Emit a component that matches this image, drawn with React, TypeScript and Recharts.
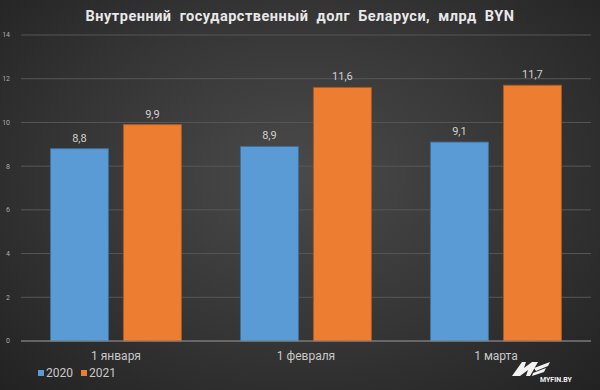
import React from "react";
import {
  BarChart,
  Bar,
  XAxis,
  YAxis,
  CartesianGrid,
  LabelList,
} from "recharts";

const categories = ["1 января", "1 февраля", "1 марта"];
const values2020 = [8.8, 8.9, 9.1];
const values2021 = [9.9, 11.6, 11.7];
const yTicks = [0, 2, 4, 6, 8, 10, 12, 14];

const data = categories.map((name, i) => ({
  name,
  y2020: values2020[i],
  y2021: values2021[i],
}));

const fmt = (v: any) => String(v).replace(".", ",");

const App = () => {
  return (
    <div
      style={{
        position: "relative",
        width: 600,
        height: 390,
        background: "radial-gradient(ellipse at 50% 45%, #4a4a4a 0%, #353535 55%, #222 100%)",
        overflow: "hidden",
      }}
    >
      <style>{`body{margin:0}`}</style>
      <div
        style={{
          position: "absolute",
          top: 8,
          left: 0,
          width: 600,
          textAlign: "center",
          whiteSpace: "nowrap",
          color: "#e8e8e8",
          fontFamily: "Roboto, sans-serif",
          fontWeight: 700,
          fontSize: 14.5,
          letterSpacing: 0.5,
          wordSpacing: 4,
        }}
      >
        Внутренний государственный долг Беларуси, млрд BYN
      </div>
      <BarChart
        width={600}
        height={390}
        data={data}
        margin={{ top: 35, right: 9, left: 0, bottom: 27 }}
        barCategoryGap="15.5%"
        barGap={15}
      >
        <CartesianGrid vertical={false} stroke="#575757" />
        <XAxis
          dataKey="name"
          height={22}
          tickLine={false}
          axisLine={{ stroke: "#8a8a8a" }}
          tick={{ fontSize: 12, fill: "#c8c8c8", fontFamily: "Roboto, sans-serif" }}
          tickMargin={4}
        />
        <YAxis
          width={21}
          domain={[0, 14]}
          ticks={yTicks}
          tickLine={false}
          axisLine={false}
          tick={{ fontSize: 7, fill: "#aaa", fontFamily: "Roboto, sans-serif" }}
          tickMargin={5}
        />
        <Bar dataKey="y2020" name="2020" fill="#5b9bd5" stroke="#3f6f99" strokeWidth={1} isAnimationActive={false}>
          <LabelList dataKey="y2020" position="top" offset={7} formatter={fmt} fill="#cfcfcf" fontSize={11} fontFamily="Roboto, sans-serif" />
        </Bar>
        <Bar dataKey="y2021" name="2021" fill="#ed7d31" stroke="#a95a24" strokeWidth={1} isAnimationActive={false}>
          <LabelList dataKey="y2021" position="top" offset={7} formatter={fmt} fill="#cfcfcf" fontSize={11} fontFamily="Roboto, sans-serif" />
        </Bar>
      </BarChart>
      <div
        style={{
          position: "absolute",
          left: 38,
          top: 366,
          display: "flex",
          gap: 8,
          fontSize: 12,
          color: "#c8c8c8",
          fontFamily: "Roboto, sans-serif",
        }}
      >
        <span style={{ display: "flex", alignItems: "center" }}>
          <span style={{ width: 6, height: 6, background: "#5b9bd5", marginRight: 2 }} />
          2020
        </span>
        <span style={{ display: "flex", alignItems: "center" }}>
          <span style={{ width: 6, height: 6, background: "#ed7d31", marginRight: 2 }} />
          2021
        </span>
      </div>
      <svg style={{ position: "absolute", left: 510, top: 358 }} width={80} height={28}>
        <polygon points="2,18 12,4 16,4 14,10 22,4 28,4 20,18 16,18 18,12 10,18" fill="#f2f2f2" />
        <polygon points="24,10 40,4 38,8 26,13" fill="#f2f2f2" />
        <polygon points="23,15 36,10 34,14 22,18" fill="#f2f2f2" />
        <text x={30} y={24} fontSize={7} fill="#f2f2f2" fontFamily="Roboto, sans-serif" fontWeight={700}>
          MYFIN.BY
        </text>
      </svg>
    </div>
  );
};

export default App;
